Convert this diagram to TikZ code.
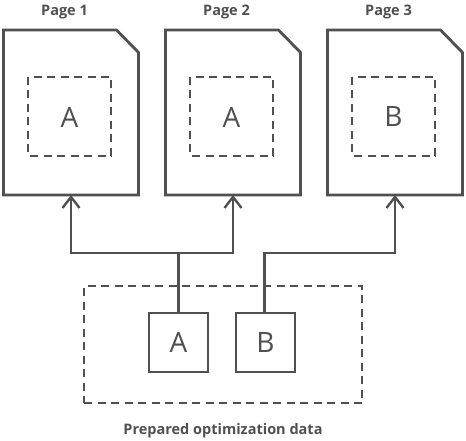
\documentclass[tikz,border=0pt]{standalone}
\usepackage{fontspec}
\setmainfont{Open Sans}
\usetikzlibrary{arrows.meta}
\definecolor{ink}{HTML}{505050}
\begin{document}
\begin{tikzpicture}[x=1pt,y=-1pt,
  line/.style={draw=ink,line width=2.8pt},
  dashbox/.style={draw=ink,line width=2.8pt,dash pattern=on 8pt off 5.5pt},
  big/.style={text=ink,font=\fontsize{28}{30}\selectfont},
  lab/.style={text=ink,font=\bfseries\fontsize{14.5}{16}\selectfont},
  arr/.style={draw=ink,line width=2.8pt,-{Straight Barb[length=11pt,width=17pt,line width=2.4pt]}}]
\useasboundingbox (0,0) rectangle (466,441);
\foreach \i/\cx/\t in {1/71/A,2/233/A,3/395/B}{
  \begin{scope}[shift={(\cx-71,0)}]
  \draw[line,line join=miter] (3.5,30) -- (116.5,30) -- (138.5,52.5) -- (138.5,195) -- (3.5,195) -- cycle;
  \draw[dashbox] (28,77) rectangle (111,156);
  \end{scope}
  \node[lab] (p\i) at (\cx-6.5,12) {Page \i};
  \coordinate (d\i) at (\cx,195);
  \node[big] (t\i) at (\cx-1.5,117) {\t};
}
\node[dashbox,minimum width=278pt,minimum height=117pt] (outer) at (223,344.5) {};
\node[line,minimum width=59pt,minimum height=59pt,inner sep=0pt,big] (a) at (178.5,342.5) {A};
\node[line,minimum width=59pt,minimum height=59pt,inner sep=0pt,big] (b) at (265.5,342.5) {B};
\node[lab] (cap) at (223,431) {Prepared optimization data};
\coordinate (ja) at (178.5,253);
\coordinate (jb) at (264.5,253);
\draw[arr] (a.north) -- (ja) -| (d1);
\draw[arr] (ja) -| (d2);
\draw[arr] (b.north -| jb) -- (jb) -| (d3);
\end{tikzpicture}
\end{document}
